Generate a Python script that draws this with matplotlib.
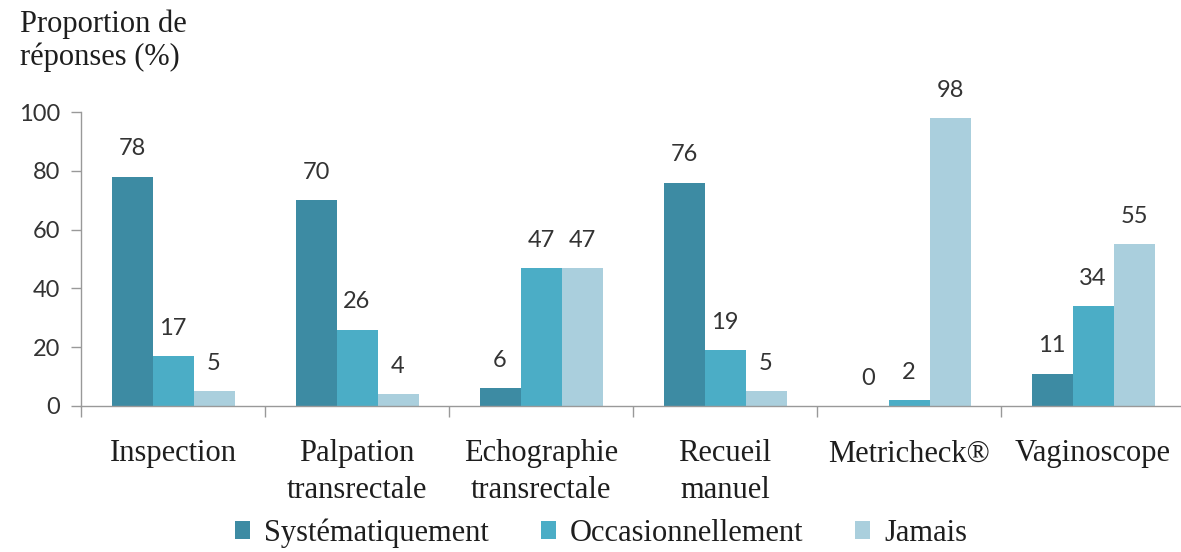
import matplotlib
matplotlib.use("Agg")
import matplotlib.pyplot as plt
from matplotlib.patches import Patch
import numpy as np

categories = ["Inspection", "Palpation\ntransrectale", "Echographie\ntransrectale",
              "Recueil\nmanuel", "Metricheck®", "Vaginoscope"]
series_names = ["Systématiquement", "Occasionnellement", "Jamais"]
systematique = [78, 70, 6, 76, 0, 11]
occasionnel = [17, 26, 47, 19, 2, 34]
jamais = [5, 4, 47, 5, 98, 55]
y_ticks = [0, 20, 40, 60, 80, 100]

colors = ["#3d8ba3", "#4badc6", "#aacfdd"]
serif = ["Liberation Serif", "DejaVu Serif"]
sans = ["Lato", "DejaVu Sans"]

fig = plt.figure(figsize=(11.81, 5.52), dpi=100)
ax = fig.add_axes([0.0686, 0.2645, 0.9348, 0.5325])

x = np.arange(len(categories))
bw = 41 / 184
values = [systematique, occasionnel, jamais]
for i, (vals, c) in enumerate(zip(values, colors)):
    pos = x + (i - 1) * bw
    ax.bar(pos, vals, width=bw, color=c, linewidth=0)
    for px, v in zip(pos, vals):
        ax.annotate(f"{v}", (px, v), xytext=(0, 20), textcoords="offset points",
                    ha="center", va="center", fontsize=17, family=sans,
                    color="#333333")

ax.set_xlim(-0.5, len(categories) - 0.5)
ax.set_ylim(0, 100)
ax.set_yticks(y_ticks)
ax.set_yticklabels([str(t) for t in y_ticks], family=sans,
                   fontsize=17, color="#333333")
ax.tick_params(axis="y", length=7, width=1, color="#999999", pad=8)

ax.set_xticks(x)
ax.set_xticklabels(categories, family=serif, fontsize=22, color="#1e1e1e",
                   linespacing=1.33)
ax.tick_params(axis="x", which="major", length=0, pad=24)
ax.set_xticks(np.arange(len(categories) + 1) - 0.5, minor=True)
ax.tick_params(axis="x", which="minor", length=8, width=1, color="#999999")

for s in ["top", "right"]:
    ax.spines[s].set_visible(False)
for s in ["left", "bottom"]:
    ax.spines[s].set_color("#999999")
    ax.spines[s].set_linewidth(1)

fig.text(0.017, 0.983, "Proportion de\nréponses (%)", ha="left", va="top",
         family=serif, fontsize=22, color="#1e1e1e", linespacing=1.15)

handles = [Patch(facecolor=c, edgecolor="none") for c in colors]
fig.legend(handles, series_names, loc="center", bbox_to_anchor=(0.509, 0.034),
           ncol=3, frameon=False, prop={"family": serif, "size": 22},
           handlelength=0.5, handleheight=0.5, handletextpad=0.45,
           columnspacing=1.7, labelcolor="#1e1e1e", borderpad=0)

fig.savefig("out.png", dpi=100)
